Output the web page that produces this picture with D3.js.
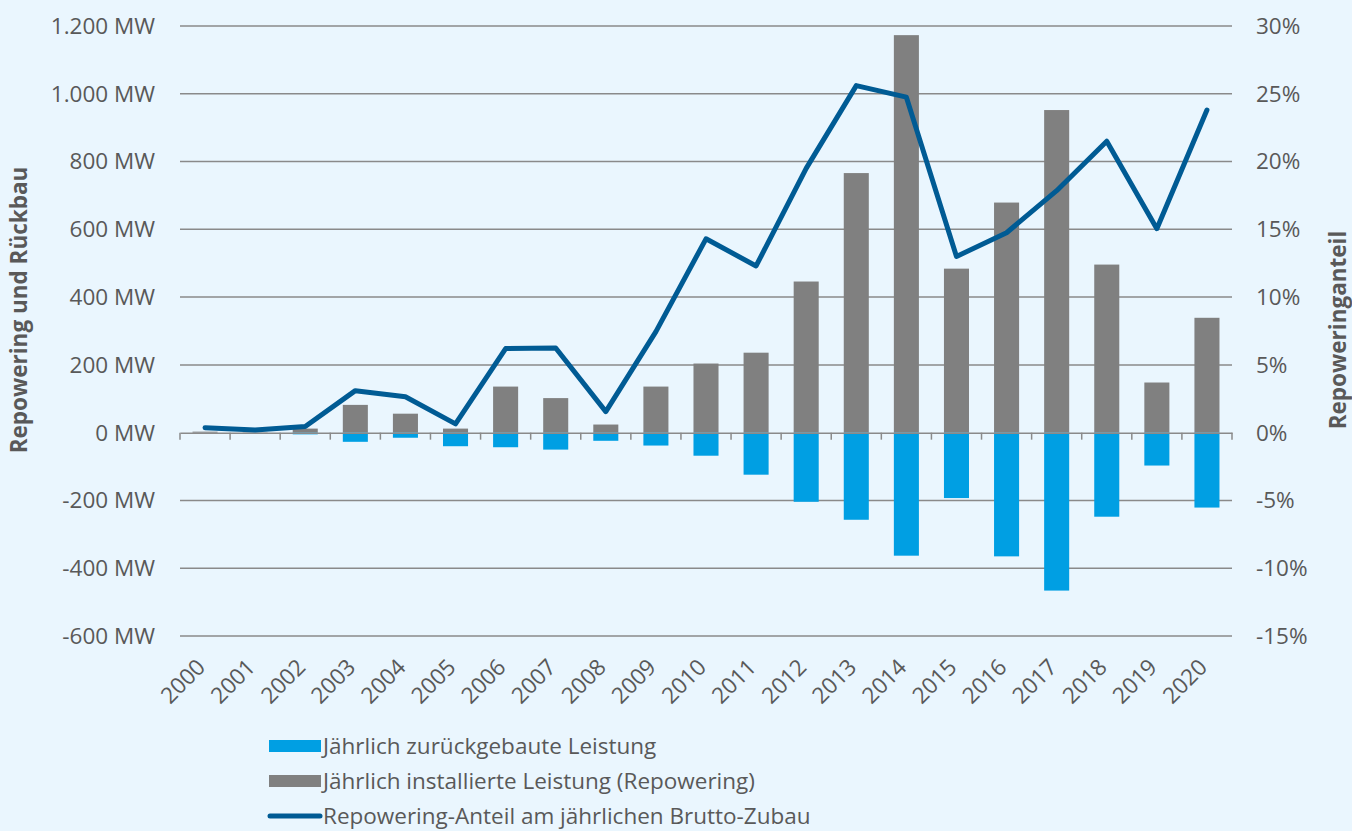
<!DOCTYPE html>
<html>
<head>
<meta charset="utf-8">
<script src="https://cdn.jsdelivr.net/npm/d3@7"></script>
<style>
  html, body { margin: 0; padding: 0; background: #eaf6fe; }
  svg { display: block; }
</style>
</head>
<body>
<div id="chart"></div>
<script>
// Data
const years = ['2000', '2001', '2002', '2003', '2004', '2005', '2006', '2007', '2008', '2009', '2010',
  '2011', '2012', '2013', '2014', '2015', '2016', '2017', '2018', '2019', '2020'];
const installed = [3, 1, 12, 82, 56, 12, 136, 102, 24, 136, 204, 236, 446, 766, 1173, 484, 679, 952, 496, 148, 339];
const removed = [0, 0, -5, -27, -15, -40, -43, -50, -24, -38, -68, -124, -204, -257, -363, -193, -365, -466, -248, -97, -221];
const share = [0.37, 0.2, 0.45, 3.1, 2.65, 0.65, 6.2, 6.25, 1.55, 7.45, 14.3, 12.3, 19.5, 25.6, 24.75, 13.0, 14.75, 17.85, 21.5, 15.05, 23.8];
const leftTicks = [-600, -400, -200, 0, 200, 400, 600, 800, 1000, 1200];
const rightTicks = [-15, -10, -5, 0, 5, 10, 15, 20, 25, 30];

const legendItems = [
  { label: 'Jährlich zurückgebaute Leistung', type: 'rect', color: '#009fe3' },
  { label: 'Jährlich installierte Leistung (Repowering)', type: 'rect', color: '#808080' },
  { label: 'Repowering-Anteil am jährlichen Brutto-Zubau', type: 'line', color: '#005b94' },
];

const width = 1352;
const height = 831;
const margin = { top: 26, right: 120, bottom: 195, left: 180 };
const chartWidth = width - margin.left - margin.right;
const chartHeight = height - margin.top - margin.bottom;
const font = '"Segoe UI", "Open Sans", "Noto Sans", sans-serif';
const fontSize = '22.5px';
const textFill = '#595959';

// German number format, plain hyphen for negatives
const de = d3.formatLocale({ decimal: ',', thousands: '.', grouping: [3], currency: ['', ' €'], minus: '-' });
const fmtMW = de.format(',');

const x = d3.scaleBand()
  .domain(years)
  .range([0, chartWidth])
  .paddingInner(0.5)
  .paddingOuter(0.25);

const y = d3.scaleLinear().domain([-600, 1200]).range([chartHeight, 0]);
const y2 = d3.scaleLinear().domain([-15, 30]).range([chartHeight, 0]);

const svg = d3.select('#chart')
  .append('svg')
  .attr('width', width)
  .attr('height', height);

svg.append('rect').attr('width', width).attr('height', height).attr('fill', '#eaf6fe');

const g = svg.append('g').attr('transform', `translate(${margin.left}, ${margin.top})`);

// gridlines
g.append('g')
  .selectAll('line')
  .data(leftTicks.filter(d => d !== 0))
  .enter()
  .append('line')
  .attr('x1', 0)
  .attr('x2', chartWidth)
  .attr('y1', d => y(d))
  .attr('y2', d => y(d))
  .attr('stroke', '#8a8a8a')
  .attr('stroke-width', 1.5);

// left axis labels
g.append('g')
  .selectAll('text')
  .data(leftTicks)
  .enter()
  .append('text')
  .attr('x', -25)
  .attr('y', d => y(d))
  .attr('dy', '0.35em')
  .attr('text-anchor', 'end')
  .style('font-family', font)
  .style('font-size', fontSize)
  .attr('fill', textFill)
  .text(d => `${fmtMW(d)} MW`);

// right axis labels
g.append('g')
  .selectAll('text')
  .data(rightTicks)
  .enter()
  .append('text')
  .attr('x', chartWidth + 24)
  .attr('y', d => y2(d))
  .attr('dy', '0.35em')
  .attr('text-anchor', 'start')
  .style('font-family', font)
  .style('font-size', fontSize)
  .attr('fill', textFill)
  .text(d => `${fmtMW(d)}%`);

// bars
g.append('g')
  .selectAll('rect')
  .data(years)
  .enter()
  .append('rect')
  .attr('x', d => x(d))
  .attr('width', x.bandwidth())
  .attr('y', (d, i) => y(installed[i]))
  .attr('height', (d, i) => y(0) - y(installed[i]))
  .attr('fill', '#808080');

g.append('g')
  .selectAll('rect')
  .data(years)
  .enter()
  .append('rect')
  .attr('x', d => x(d))
  .attr('width', x.bandwidth())
  .attr('y', y(0))
  .attr('height', (d, i) => y(removed[i]) - y(0))
  .attr('fill', '#009fe3');

// zero axis with tick marks between categories
const xG = g.append('g')
  .attr('transform', `translate(0, ${y(0)})`)
  .call(d3.axisBottom(x).tickSize(0).tickFormat(''));
xG.select('.domain').attr('stroke', '#8a8a8a').attr('stroke-width', 1.5);
g.append('g')
  .selectAll('line')
  .data(d3.range(years.length + 1))
  .enter()
  .append('line')
  .attr('x1', i => i * x.step())
  .attr('x2', i => i * x.step())
  .attr('y1', y(0))
  .attr('y2', y(0) + 7)
  .attr('stroke', '#8a8a8a')
  .attr('stroke-width', 1.5);

// x labels
g.append('g')
  .selectAll('text')
  .data(years)
  .enter()
  .append('text')
  .attr('transform', d => `translate(${x(d) + x.bandwidth() / 2 - 4}, ${chartHeight + 27}) rotate(-45)`)
  .attr('text-anchor', 'end')
  .attr('dy', '0.35em')
  .style('font-family', font)
  .style('font-size', fontSize)
  .attr('fill', textFill)
  .text(d => d);

// line
const line = d3.line()
  .x((d, i) => x(years[i]) + x.bandwidth() / 2)
  .y(d => y2(d));

g.append('path')
  .datum(share)
  .attr('d', line)
  .attr('fill', 'none')
  .attr('stroke', '#005b94')
  .attr('stroke-width', 5)
  .attr('stroke-linejoin', 'round')
  .attr('stroke-linecap', 'round');

// axis titles
svg.append('text')
  .attr('transform', `translate(27, 310) rotate(-90)`)
  .attr('text-anchor', 'middle')
  .style('font-family', font)
  .style('font-size', fontSize)
  .style('font-weight', '700')
  .attr('fill', textFill)
  .text('Repowering und Rückbau');

svg.append('text')
  .attr('transform', `translate(1346, 330) rotate(-90)`)
  .attr('text-anchor', 'middle')
  .style('font-family', font)
  .style('font-size', fontSize)
  .style('font-weight', '700')
  .attr('fill', textFill)
  .text('Repoweringanteil');

// legend
const legend = svg.append('g').attr('transform', 'translate(269, 746)');
const items = legend.selectAll('g')
  .data(legendItems)
  .enter()
  .append('g')
  .attr('transform', (d, i) => `translate(0, ${i * 35})`);

items.filter(d => d.type === 'rect')
  .append('rect')
  .attr('x', 0)
  .attr('y', -6)
  .attr('width', 52)
  .attr('height', 12)
  .attr('fill', d => d.color);

items.filter(d => d.type === 'line')
  .append('line')
  .attr('x1', 1)
  .attr('x2', 51)
  .attr('y1', 0)
  .attr('y2', 0)
  .attr('stroke', d => d.color)
  .attr('stroke-width', 5)
  .attr('stroke-linecap', 'round');

items.append('text')
  .attr('x', 54)
  .attr('y', 0)
  .attr('dy', '0.35em')
  .style('font-family', font)
  .style('font-size', fontSize)
  .attr('fill', textFill)
  .text(d => d.label);
</script>
</body>
</html>
